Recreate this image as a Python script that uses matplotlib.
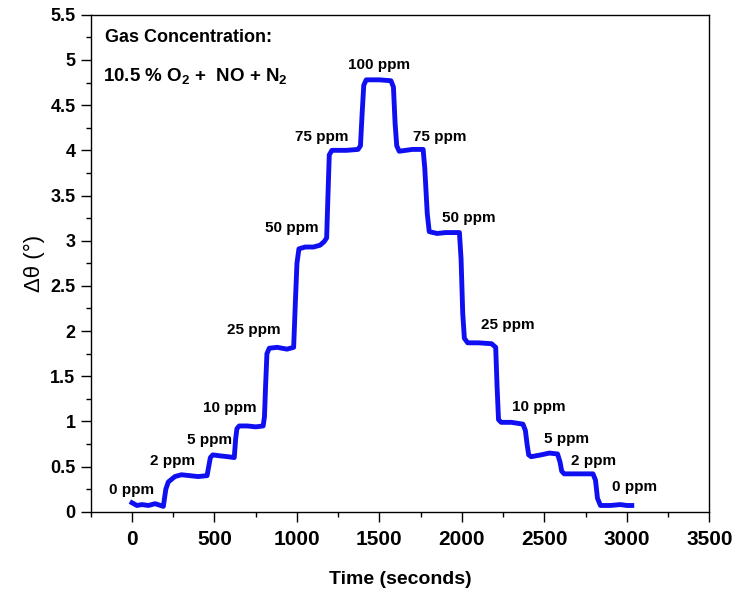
import matplotlib
matplotlib.use("Agg")
import matplotlib.pyplot as plt
from matplotlib.ticker import MultipleLocator, FuncFormatter

plt.rcParams["font.family"] = ["Liberation Sans", "DejaVu Sans"]
plt.rcParams["mathtext.fontset"] = "custom"
plt.rcParams["mathtext.rm"] = "Liberation Sans:bold"
plt.rcParams["mathtext.default"] = "rm"

# ------------------------------------------------------------------------------
# data (time in s, delta theta in degrees)
time_s = [
    0, 30, 60, 100, 140, 190,
    205, 220, 260, 300,
    350, 400, 455,
    465, 475, 490,
    530, 580, 620,
    628, 636, 650,
    700, 750, 795, 803,
    810, 818, 832,
    880, 940, 980,
    990, 1000, 1012,
    1050, 1100, 1140, 1165, 1180,
    1188, 1196, 1212,
    1300, 1370, 1385,
    1395, 1405, 1420,
    1500, 1570, 1585,
    1595, 1605, 1620,
    1700, 1765,
    1775, 1790, 1802,
    1850, 1900, 1985,
    1995, 2005, 2015, 2035,
    2100, 2180, 2205,
    2213, 2222, 2238,
    2300, 2370, 2385,
    2395, 2405, 2420,
    2480, 2530, 2580, 2595,
    2605, 2620,
    2700, 2795, 2810,
    2822, 2840,
    2900, 2960, 3000, 3030,
]
delta_theta = [
    0.10, 0.07, 0.08, 0.07, 0.09, 0.06,
    0.25, 0.33, 0.39, 0.41,
    0.40, 0.39, 0.40,
    0.50, 0.60, 0.63,
    0.62, 0.61, 0.60,
    0.80, 0.92, 0.95,
    0.95, 0.94, 0.95, 1.05,
    1.40, 1.75, 1.81,
    1.82, 1.80, 1.82,
    2.30, 2.75, 2.91,
    2.93, 2.93, 2.95, 2.99, 3.03,
    3.50, 3.95, 4.00,
    4.00, 4.01, 4.05,
    4.40, 4.72, 4.78,
    4.78, 4.77, 4.70,
    4.30, 4.05, 3.99,
    4.01, 4.01,
    3.80, 3.30, 3.10,
    3.08, 3.09, 3.09,
    2.80, 2.20, 1.92, 1.87,
    1.87, 1.86, 1.82,
    1.40, 1.02, 0.99,
    0.99, 0.97, 0.90,
    0.75, 0.63, 0.61,
    0.63, 0.65, 0.64, 0.55,
    0.45, 0.42,
    0.42, 0.42, 0.35,
    0.15, 0.07,
    0.07, 0.08, 0.07, 0.07,
]

# concentration labels and where they sit
conc_labels = ["0 ppm", "2 ppm", "5 ppm", "10 ppm", "25 ppm", "50 ppm", "75 ppm",
               "100 ppm",
               "75 ppm", "50 ppm", "25 ppm", "10 ppm", "5 ppm", "2 ppm", "0 ppm"]
label_x = [-5, 245, 470, 595, 738, 970, 1150, 1500,
           1865, 2040, 2280, 2465, 2635, 2800, 3045]
label_y = [0.24, 0.56, 0.80, 1.15, 2.01, 3.14, 4.15, 4.94,
           4.15, 3.25, 2.07, 1.16, 0.81, 0.56, 0.27]

# ------------------------------------------------------------------------------
fig = plt.figure(figsize=(7.32, 5.91), dpi=100)
ax = fig.add_axes([0.124, 0.134, 0.845, 0.841])

ax.plot(time_s, delta_theta, color="#0f0ff2", lw=3.5, solid_joinstyle="round")

for txt, x, y in zip(conc_labels, label_x, label_y):
    ax.text(x, y, txt, ha="center", va="center", fontsize=11, fontweight="bold")

ax.text(0.023, 0.955, "Gas Concentration:", transform=ax.transAxes,
        ha="left", va="center", fontsize=13, fontweight="bold")
ax.text(0.020, 0.877, "10.5 % O$_2$ +  NO + N$_2$", transform=ax.transAxes,
        ha="left", va="center", fontsize=13.5, fontweight="bold")

ax.set_xlim(-250, 3500)
ax.set_ylim(0, 5.5)
ax.xaxis.set_major_locator(MultipleLocator(500))
ax.xaxis.set_minor_locator(MultipleLocator(250))
ax.yaxis.set_major_locator(MultipleLocator(0.5))
ax.yaxis.set_minor_locator(MultipleLocator(0.25))
ax.yaxis.set_major_formatter(FuncFormatter(lambda v, p: "%g" % v))

ax.tick_params(which="both", direction="out", top=False, right=False, width=1)
ax.tick_params(which="major", length=7)
ax.tick_params(which="minor", length=3.5)
ax.tick_params(axis="x", which="major", labelsize=15, pad=6)
ax.tick_params(axis="y", which="major", labelsize=13, pad=4)
for lab in ax.get_xticklabels() + ax.get_yticklabels():
    lab.set_fontweight("bold")
for sp in ax.spines.values():
    sp.set_linewidth(1.0)

ax.set_xlabel("Time (seconds)", fontsize=14, fontweight="bold", labelpad=16)
ax.set_ylabel("\u0394\u03b8 (\u00b0)", fontsize=16, labelpad=4)

fig.savefig("out.png", dpi=100)
